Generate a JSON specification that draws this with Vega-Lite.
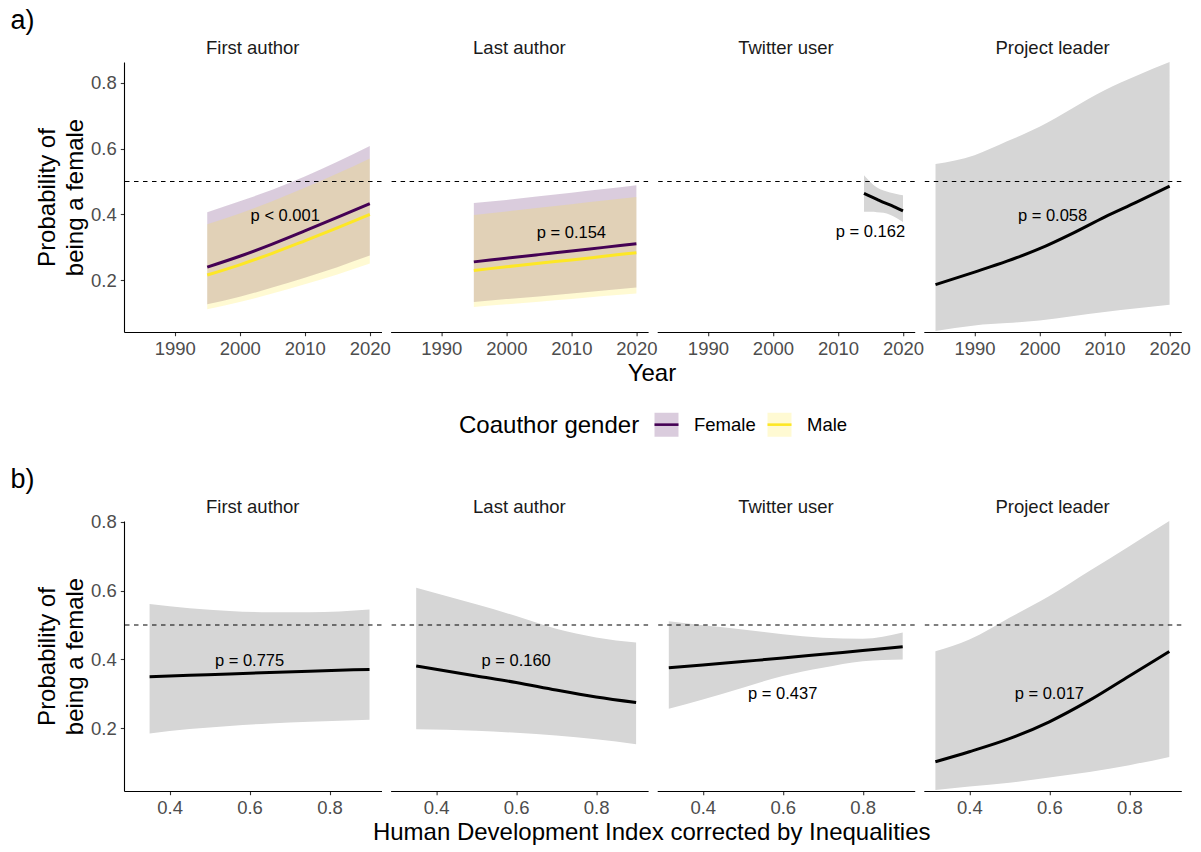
{
  "$schema": "https://vega.github.io/schema/vega-lite/v6.json",
  "padding": {"left": 10, "top": 6, "right": 10, "bottom": 6},
  "background": "white",
  "config": {
    "font": "Liberation Sans",
    "view": {"stroke": null},
    "axis": {"domainColor": "#000000", "domainWidth": 1.1, "tickColor": "#333333", "tickSize": 3.7, "tickWidth": 1.1, "labelFontSize": 18.5, "labelColor": "#4d4d4d", "labelFont": "Liberation Sans", "grid": false, "titleFontSize": 24, "titleFontWeight": "normal", "titleColor": "#000000", "titleFont": "Liberation Sans"},
    "header": {"labelFontSize": 18.5, "labelColor": "#1a1a1a", "labelFont": "Liberation Sans"},
    "title": {"font": "Liberation Sans", "fontWeight": "normal", "color": "#000000"},
    "legend": {"padding": 0}
  },
  "datasets": {
    "top": [
      {"role": "First author", "kind": "fit", "g": "Female", "x": 1995, "fit": 0.240, "lo": 0.127, "hi": 0.407},
      {"role": "First author", "kind": "fit", "g": "Female", "x": 2000, "fit": 0.273, "lo": 0.150, "hi": 0.440},
      {"role": "First author", "kind": "fit", "g": "Female", "x": 2005, "fit": 0.310, "lo": 0.178, "hi": 0.475},
      {"role": "First author", "kind": "fit", "g": "Female", "x": 2010, "fit": 0.350, "lo": 0.208, "hi": 0.515},
      {"role": "First author", "kind": "fit", "g": "Female", "x": 2015, "fit": 0.391, "lo": 0.240, "hi": 0.560},
      {"role": "First author", "kind": "fit", "g": "Female", "x": 2020, "fit": 0.433, "lo": 0.275, "hi": 0.608},
      {"role": "First author", "kind": "fit", "g": "Male", "x": 1995, "fit": 0.216, "lo": 0.112, "hi": 0.370},
      {"role": "First author", "kind": "fit", "g": "Male", "x": 2000, "fit": 0.247, "lo": 0.134, "hi": 0.403},
      {"role": "First author", "kind": "fit", "g": "Male", "x": 2005, "fit": 0.282, "lo": 0.160, "hi": 0.440},
      {"role": "First author", "kind": "fit", "g": "Male", "x": 2010, "fit": 0.320, "lo": 0.188, "hi": 0.481},
      {"role": "First author", "kind": "fit", "g": "Male", "x": 2015, "fit": 0.359, "lo": 0.218, "hi": 0.524},
      {"role": "First author", "kind": "fit", "g": "Male", "x": 2020, "fit": 0.400, "lo": 0.251, "hi": 0.570},
      {"role": "Last author", "kind": "fit", "g": "Female", "x": 1995, "fit": 0.256, "lo": 0.134, "hi": 0.435},
      {"role": "Last author", "kind": "fit", "g": "Female", "x": 2000, "fit": 0.267, "lo": 0.143, "hi": 0.444},
      {"role": "Last author", "kind": "fit", "g": "Female", "x": 2005, "fit": 0.278, "lo": 0.151, "hi": 0.455},
      {"role": "Last author", "kind": "fit", "g": "Female", "x": 2010, "fit": 0.289, "lo": 0.160, "hi": 0.466},
      {"role": "Last author", "kind": "fit", "g": "Female", "x": 2015, "fit": 0.300, "lo": 0.169, "hi": 0.477},
      {"role": "Last author", "kind": "fit", "g": "Female", "x": 2020, "fit": 0.311, "lo": 0.178, "hi": 0.489},
      {"role": "Last author", "kind": "fit", "g": "Male", "x": 1995, "fit": 0.230, "lo": 0.119, "hi": 0.398},
      {"role": "Last author", "kind": "fit", "g": "Male", "x": 2000, "fit": 0.241, "lo": 0.127, "hi": 0.409},
      {"role": "Last author", "kind": "fit", "g": "Male", "x": 2005, "fit": 0.252, "lo": 0.135, "hi": 0.420},
      {"role": "Last author", "kind": "fit", "g": "Male", "x": 2010, "fit": 0.262, "lo": 0.143, "hi": 0.431},
      {"role": "Last author", "kind": "fit", "g": "Male", "x": 2015, "fit": 0.273, "lo": 0.152, "hi": 0.442},
      {"role": "Last author", "kind": "fit", "g": "Male", "x": 2020, "fit": 0.284, "lo": 0.160, "hi": 0.453},
      {"role": "Twitter user", "kind": "fit", "g": "none", "x": 2014, "fit": 0.464, "lo": 0.408, "hi": 0.519},
      {"role": "Twitter user", "kind": "fit", "g": "none", "x": 2015, "fit": 0.455, "lo": 0.408, "hi": 0.498},
      {"role": "Twitter user", "kind": "fit", "g": "none", "x": 2016, "fit": 0.446, "lo": 0.407, "hi": 0.482},
      {"role": "Twitter user", "kind": "fit", "g": "none", "x": 2017, "fit": 0.437, "lo": 0.405, "hi": 0.473},
      {"role": "Twitter user", "kind": "fit", "g": "none", "x": 2018, "fit": 0.429, "lo": 0.399, "hi": 0.467},
      {"role": "Twitter user", "kind": "fit", "g": "none", "x": 2019, "fit": 0.420, "lo": 0.389, "hi": 0.462},
      {"role": "Twitter user", "kind": "fit", "g": "none", "x": 2020, "fit": 0.411, "lo": 0.377, "hi": 0.458},
      {"role": "Project leader", "kind": "fit", "g": "none", "x": 1984, "fit": 0.187, "lo": 0.046, "hi": 0.553},
      {"role": "Project leader", "kind": "fit", "g": "none", "x": 1990, "fit": 0.225, "lo": 0.063, "hi": 0.580},
      {"role": "Project leader", "kind": "fit", "g": "none", "x": 1995, "fit": 0.258, "lo": 0.070, "hi": 0.622},
      {"role": "Project leader", "kind": "fit", "g": "none", "x": 2000, "fit": 0.296, "lo": 0.078, "hi": 0.666},
      {"role": "Project leader", "kind": "fit", "g": "none", "x": 2005, "fit": 0.342, "lo": 0.091, "hi": 0.722},
      {"role": "Project leader", "kind": "fit", "g": "none", "x": 2010, "fit": 0.392, "lo": 0.104, "hi": 0.777},
      {"role": "Project leader", "kind": "fit", "g": "none", "x": 2015, "fit": 0.438, "lo": 0.115, "hi": 0.822},
      {"role": "Project leader", "kind": "fit", "g": "none", "x": 2020, "fit": 0.486, "lo": 0.126, "hi": 0.863},
      {"role": "First author", "kind": "label", "x": 2007, "y": 0.395, "label": "p < 0.001"},
      {"role": "Last author", "kind": "label", "x": 2010, "y": 0.345, "label": "p = 0.154"},
      {"role": "Twitter user", "kind": "label", "x": 2015, "y": 0.347, "label": "p = 0.162"},
      {"role": "Project leader", "kind": "label", "x": 2002, "y": 0.395, "label": "p = 0.058"}
    ],
    "bottom": [
      {"role": "First author", "kind": "fit", "x": 0.35, "fit": 0.350, "lo": 0.185, "hi": 0.561},
      {"role": "First author", "kind": "fit", "x": 0.45, "fit": 0.354, "lo": 0.198, "hi": 0.549},
      {"role": "First author", "kind": "fit", "x": 0.55, "fit": 0.358, "lo": 0.207, "hi": 0.541},
      {"role": "First author", "kind": "fit", "x": 0.65, "fit": 0.362, "lo": 0.214, "hi": 0.537},
      {"role": "First author", "kind": "fit", "x": 0.75, "fit": 0.366, "lo": 0.219, "hi": 0.537},
      {"role": "First author", "kind": "fit", "x": 0.9, "fit": 0.371, "lo": 0.225, "hi": 0.545},
      {"role": "Last author", "kind": "fit", "x": 0.35, "fit": 0.381, "lo": 0.197, "hi": 0.608},
      {"role": "Last author", "kind": "fit", "x": 0.5, "fit": 0.352, "lo": 0.193, "hi": 0.560},
      {"role": "Last author", "kind": "fit", "x": 0.6, "fit": 0.333, "lo": 0.187, "hi": 0.526},
      {"role": "Last author", "kind": "fit", "x": 0.7, "fit": 0.311, "lo": 0.179, "hi": 0.489},
      {"role": "Last author", "kind": "fit", "x": 0.8, "fit": 0.291, "lo": 0.168, "hi": 0.464},
      {"role": "Last author", "kind": "fit", "x": 0.9, "fit": 0.275, "lo": 0.154, "hi": 0.449},
      {"role": "Twitter user", "kind": "fit", "x": 0.315, "fit": 0.376, "lo": 0.257, "hi": 0.511},
      {"role": "Twitter user", "kind": "fit", "x": 0.4, "fit": 0.384, "lo": 0.284, "hi": 0.499},
      {"role": "Twitter user", "kind": "fit", "x": 0.5, "fit": 0.394, "lo": 0.318, "hi": 0.487},
      {"role": "Twitter user", "kind": "fit", "x": 0.6, "fit": 0.404, "lo": 0.352, "hi": 0.473},
      {"role": "Twitter user", "kind": "fit", "x": 0.7, "fit": 0.415, "lo": 0.376, "hi": 0.463},
      {"role": "Twitter user", "kind": "fit", "x": 0.8, "fit": 0.426, "lo": 0.395, "hi": 0.460},
      {"role": "Twitter user", "kind": "fit", "x": 0.9, "fit": 0.437, "lo": 0.400, "hi": 0.478},
      {"role": "Project leader", "kind": "fit", "x": 0.315, "fit": 0.103, "lo": 0.021, "hi": 0.424},
      {"role": "Project leader", "kind": "fit", "x": 0.4, "fit": 0.132, "lo": 0.031, "hi": 0.458},
      {"role": "Project leader", "kind": "fit", "x": 0.5, "fit": 0.170, "lo": 0.042, "hi": 0.521},
      {"role": "Project leader", "kind": "fit", "x": 0.6, "fit": 0.219, "lo": 0.057, "hi": 0.584},
      {"role": "Project leader", "kind": "fit", "x": 0.7, "fit": 0.281, "lo": 0.073, "hi": 0.657},
      {"role": "Project leader", "kind": "fit", "x": 0.8, "fit": 0.352, "lo": 0.093, "hi": 0.729},
      {"role": "Project leader", "kind": "fit", "x": 0.9, "fit": 0.423, "lo": 0.117, "hi": 0.802},
      {"role": "First author", "kind": "label", "x": 0.6, "y": 0.395, "label": "p = 0.775"},
      {"role": "Last author", "kind": "label", "x": 0.6, "y": 0.395, "label": "p = 0.160"},
      {"role": "Twitter user", "kind": "label", "x": 0.6, "y": 0.3, "label": "p = 0.437"},
      {"role": "Project leader", "kind": "label", "x": 0.6, "y": 0.3, "label": "p = 0.017"}
    ]
  },
  "spacing": 78,
  "vconcat": [
    {
      "title": {"text": "a)", "anchor": "start", "fontSize": 27, "dx": -25, "offset": 4},
      "vconcat": [
        {
          "data": {"name": "top"},
          "title": {"text": "Year", "orient": "bottom", "anchor": "middle", "frame": "bounds", "dx": 39, "fontSize": 24, "offset": 4},
          "spacing": 8.6,
          "bounds": "flush",
          "facet": {"column": {"field": "role", "type": "nominal", "sort": ["First author", "Last author", "Twitter user", "Project leader"], "header": {"title": null, "labelFontSize": 18.5, "labelPadding": 5}}},
          "spec": {
            "width": 257.5,
            "height": 270,
            "layer": [
              {
                "transform": [{"filter": {"field": "g", "oneOf": ["Female", "Male"]}}],
                "mark": {"type": "area", "fillOpacity": 0.2, "clip": true, "interpolate": "monotone"},
                "encoding": {
                  "x": {"field": "x", "type": "quantitative", "scale": {"domain": [1982.2, 2021.8], "nice": false, "zero": false}, "axis": {"values": [1990, 2000, 2010, 2020], "format": "d", "title": null, "labelPadding": 4}},
                  "y": {"field": "lo", "type": "quantitative", "scale": {"domain": [0.043, 0.863], "nice": false, "zero": false}, "axis": {"values": [0.2, 0.4, 0.6, 0.8], "format": ".1f", "title": ["Probability of", "being a female"], "titleLineHeight": 28, "titlePadding": 3, "labelPadding": 4}},
                  "y2": {"field": "hi"},
                  "color": {
                    "field": "g", "type": "nominal",
                    "scale": {"domain": ["Female", "Male"], "range": ["#440154", "#FDE725"]},
                    "legend": {
                      "title": "Coauthor gender", "orient": "none", "legendX": 335, "legendY": 349, "direction": "horizontal",
                      "titleOrient": "left", "titleFontSize": 24, "titleFontWeight": "normal", "titleColor": "#000000", "titlePadding": 13, "titleBaseline": "middle", "titleLimit": 400,
                      "labelFontSize": 18.5, "labelColor": "#000000", "labelOffset": 14, "columnPadding": 6,
                      "symbolType": "M-1,0H1V1H-1V-1H1V0", "symbolSize": 576, "symbolStrokeWidth": 2.6, "symbolDash": [24, 1000],
                      "encode": {"symbols": {"update": {"fill": {"scale": "color", "field": "value"}, "stroke": {"scale": "color", "field": "value"}, "fillOpacity": {"value": 0.2}, "strokeOpacity": {"value": 1}, "opacity": {"value": 1}}}}
                    }
                  }
                }
              },
              {
                "transform": [{"filter": {"field": "g", "equal": "none"}}],
                "mark": {"type": "area", "color": "#d6d6d6", "opacity": 1, "clip": true, "interpolate": "monotone"},
                "encoding": {
                  "x": {"field": "x", "type": "quantitative"},
                  "y": {"field": "lo", "type": "quantitative", "title": ["Probability of", "being a female"]},
                  "y2": {"field": "hi"}
                }
              },
              {
                "transform": [{"filter": {"field": "g", "oneOf": ["Female", "Male"]}}],
                "mark": {"type": "line", "strokeWidth": 3, "interpolate": "monotone"},
                "encoding": {
                  "x": {"field": "x", "type": "quantitative"},
                  "y": {"field": "fit", "type": "quantitative", "title": ["Probability of", "being a female"]},
                  "color": {"field": "g", "type": "nominal"}
                }
              },
              {
                "transform": [{"filter": {"field": "g", "equal": "none"}}],
                "mark": {"type": "line", "strokeWidth": 3, "color": "#000000", "interpolate": "monotone"},
                "encoding": {
                  "x": {"field": "x", "type": "quantitative"},
                  "y": {"field": "fit", "type": "quantitative", "title": ["Probability of", "being a female"]}
                }
              },
              {
                "transform": [{"filter": {"field": "kind", "equal": "label"}}],
                "mark": {"type": "rule", "color": "#000000", "strokeWidth": 1.1, "strokeDash": [4.5, 4.5]},
                "encoding": {"y": {"datum": 0.5, "type": "quantitative", "title": ["Probability of", "being a female"]}}
              },
              {
                "transform": [{"filter": {"field": "kind", "equal": "label"}}],
                "mark": {"type": "text", "fontSize": 16.5, "color": "#000000", "font": "Liberation Sans"},
                "encoding": {
                  "x": {"field": "x", "type": "quantitative"},
                  "y": {"field": "y", "type": "quantitative", "title": ["Probability of", "being a female"]},
                  "text": {"field": "label"}
                }
              }
            ]
          }
        }
      ]
    },
    {
      "title": {"text": "b)", "anchor": "start", "fontSize": 27, "dx": -25, "offset": 4},
      "vconcat": [
        {
          "data": {"name": "bottom"},
          "title": {"text": "Human Development Index corrected by Inequalities", "orient": "bottom", "anchor": "middle", "frame": "bounds", "dx": 43, "fontSize": 24, "offset": 4},
          "spacing": 8.6,
          "bounds": "flush",
          "facet": {"column": {"field": "role", "type": "nominal", "sort": ["First author", "Last author", "Twitter user", "Project leader"], "header": {"title": null, "labelFontSize": 18.5, "labelPadding": 5}}},
          "spec": {
            "width": 257.5,
            "height": 270,
            "layer": [
              {
                "transform": [{"filter": {"field": "kind", "equal": "fit"}}],
                "mark": {"type": "area", "color": "#d6d6d6", "opacity": 1, "clip": true, "interpolate": "monotone"},
                "encoding": {
                  "x": {"field": "x", "type": "quantitative", "scale": {"domain": [0.286, 0.93], "nice": false, "zero": false}, "axis": {"values": [0.4, 0.6, 0.8], "format": ".1f", "title": null, "labelPadding": 4}},
                  "y": {"field": "lo", "type": "quantitative", "scale": {"domain": [0.018, 0.802], "nice": false, "zero": false}, "axis": {"values": [0.2, 0.4, 0.6, 0.8], "format": ".1f", "title": ["Probability of", "being a female"], "titleLineHeight": 28, "titlePadding": 3, "labelPadding": 4}},
                  "y2": {"field": "hi"}
                }
              },
              {
                "transform": [{"filter": {"field": "kind", "equal": "fit"}}],
                "mark": {"type": "line", "strokeWidth": 3, "color": "#000000", "interpolate": "monotone"},
                "encoding": {
                  "x": {"field": "x", "type": "quantitative"},
                  "y": {"field": "fit", "type": "quantitative", "title": ["Probability of", "being a female"]}
                }
              },
              {
                "transform": [{"filter": {"field": "kind", "equal": "label"}}],
                "mark": {"type": "rule", "color": "#000000", "strokeWidth": 1.1, "strokeDash": [4.5, 4.5]},
                "encoding": {"y": {"datum": 0.5, "type": "quantitative", "title": ["Probability of", "being a female"]}}
              },
              {
                "transform": [{"filter": {"field": "kind", "equal": "label"}}],
                "mark": {"type": "text", "fontSize": 16.5, "color": "#000000", "font": "Liberation Sans"},
                "encoding": {
                  "x": {"field": "x", "type": "quantitative"},
                  "y": {"field": "y", "type": "quantitative", "title": ["Probability of", "being a female"]},
                  "text": {"field": "label"}
                }
              }
            ]
          }
        }
      ]
    }
  ]
}
